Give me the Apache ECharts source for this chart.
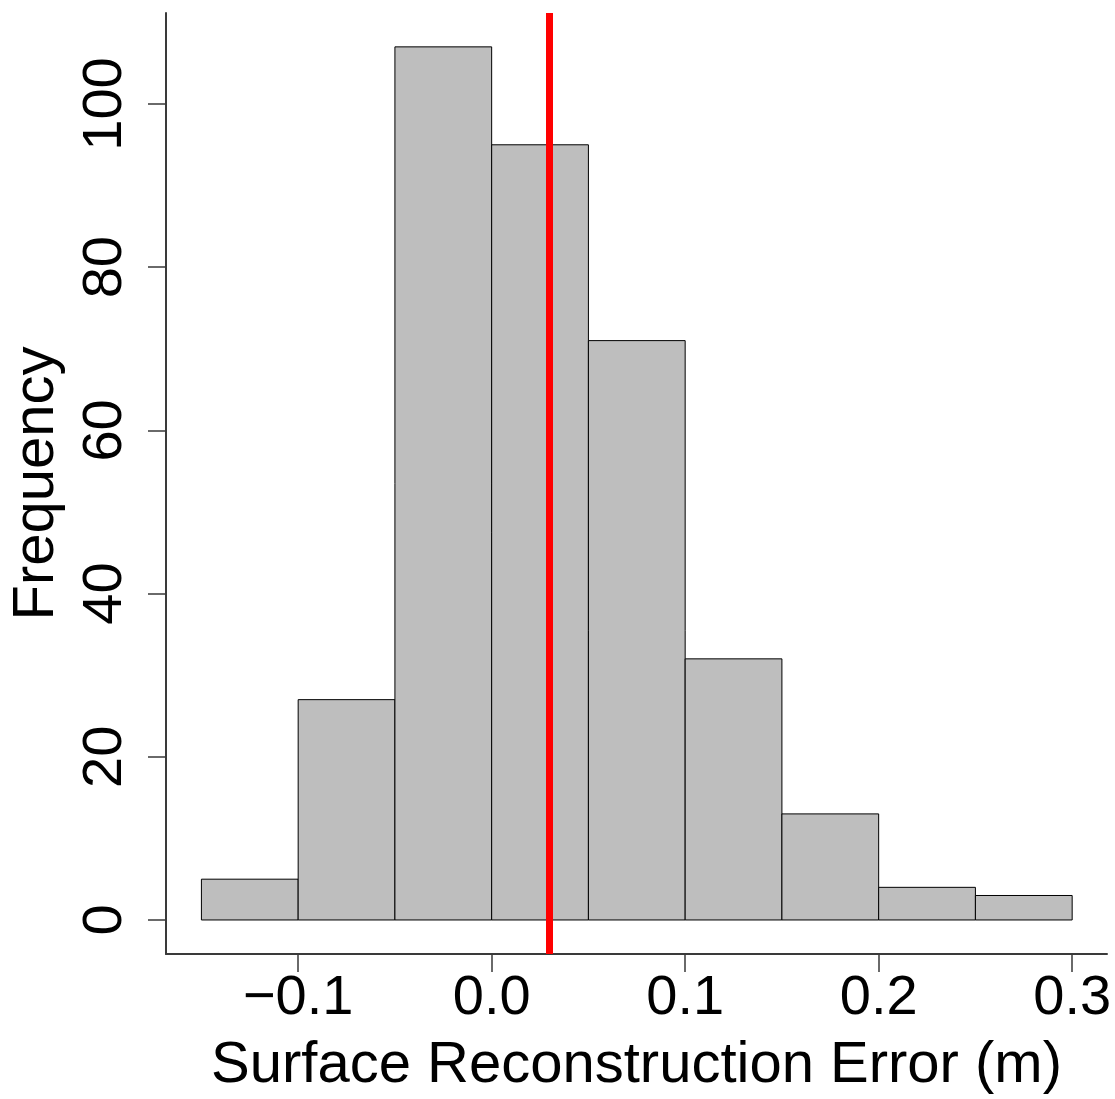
<!DOCTYPE html>
<html>
<head>
<meta charset="utf-8">
<script src="https://cdn.jsdelivr.net/npm/echarts@6/dist/echarts.min.js"></script>
<style>
html,body{margin:0;padding:0;background:#fff;}
#chart{width:1115px;height:1099px;}
</style>
</head>
<body>
<div id="chart"></div>
<script>
// Histogram bins (left edge, right edge) and counts
var binStarts = [-0.15, -0.10, -0.05, 0.00, 0.05, 0.10, 0.15, 0.20, 0.25];
var binEnds   = [-0.10, -0.05, 0.00, 0.05, 0.10, 0.15, 0.20, 0.25, 0.30];
var counts    = [5, 27, 107, 95, 71, 32, 13, 4, 3];
var xTicks = [-0.1, 0.0, 0.1, 0.2, 0.3];
var yTicks = [0, 20, 40, 60, 80, 100];
var meanError = 0.0282;
var xTitle = 'Surface Reconstruction Error (m)';
var yTitle = 'Frequency';

var FONT = '"Liberation Sans", Arial, sans-serif';
var AXIS_COLOR = '#3a3a3a';

var data = binStarts.map(function (s, i) { return [s, binEnds[i], counts[i]]; });

var chart = echarts.init(document.getElementById('chart'), null, {renderer: 'canvas'});
chart.setOption({
  animation: false,
  backgroundColor: '#ffffff',
  grid: {left: 166, right: 8, top: 13, bottom: 145, containLabel: false, outerBoundsMode: 'none'},
  xAxis: {
    type: 'value',
    min: -0.1683,
    max: 0.318,
    splitLine: {show: false},
    axisLine: {show: true, onZero: false, lineStyle: {color: AXIS_COLOR, width: 2}},
    axisTick: {show: true, inside: false, length: 18, customValues: xTicks, lineStyle: {color: AXIS_COLOR, width: 1.5}},
    axisLabel: {
      customValues: xTicks, margin: 17, color: '#000', fontFamily: FONT, fontSize: 56,
      formatter: function (v) { var s = Math.abs(v).toFixed(1); return v < -1e-9 ? '\u2212' + s : s; }
    },
    name: xTitle, nameLocation: 'middle', nameGap: 83,
    nameTextStyle: {color: '#000', fontFamily: FONT, fontSize: 58}
  },
  yAxis: {
    type: 'value',
    min: -4.17,
    max: 111.15,
    splitLine: {show: false},
    axisLine: {show: true, onZero: false, lineStyle: {color: AXIS_COLOR, width: 2}},
    axisTick: {show: true, inside: false, length: 18, customValues: yTicks, lineStyle: {color: AXIS_COLOR, width: 1.5}},
    axisLabel: {
      customValues: yTicks, rotate: 90, margin: 32, color: '#000', fontFamily: FONT, fontSize: 56,
      formatter: function (v) { return String(Math.round(v)); }
    },
    name: yTitle, nameLocation: 'middle', nameRotate: 90, nameGap: 100,
    nameTextStyle: {color: '#000', fontFamily: FONT, fontSize: 58}
  },
  series: [{
    type: 'custom',
    data: data,
    encode: {x: [0, 1], y: 2},
    renderItem: function (params, api) {
      var p0 = api.coord([api.value(0), api.value(2)]);
      var p1 = api.coord([api.value(1), 0]);
      return {
        type: 'rect',
        shape: {x: p0[0], y: p0[1], width: p1[0] - p0[0], height: p1[1] - p0[1]},
        style: {fill: '#bebebe', stroke: '#000000', lineWidth: 1}
      };
    },
    markLine: {
      silent: true,
      symbol: ['none', 'none'],
      label: {show: false},
      lineStyle: {color: '#ff0000', width: 7, type: 'solid'},
      data: [{xAxis: meanError}]
    }
  }]
});
</script>
</body>
</html>
